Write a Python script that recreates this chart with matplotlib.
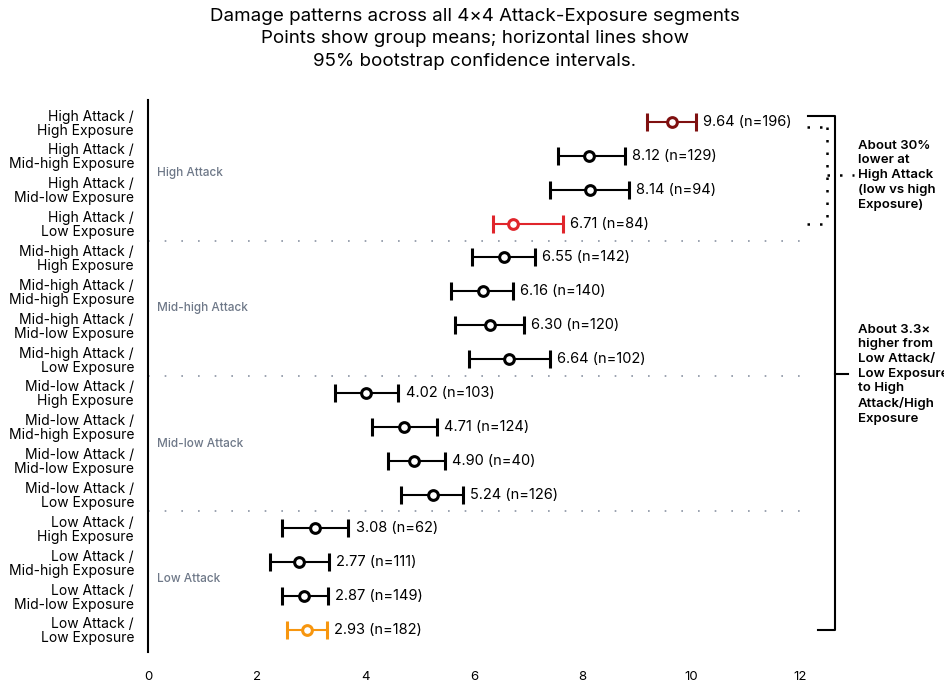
import numpy as np
import matplotlib
matplotlib.use('Agg')
import matplotlib.pyplot as plt

plt.rcParams['font.family'] = ['Inter', 'DejaVu Sans']

ATTACK = ["High", "Mid-high", "Mid-low", "Low"]
EXPOSURE = ["High", "Mid-high", "Mid-low", "Low"]
MEANS = [9.64, 8.12, 8.14, 6.71,
         6.55, 6.16, 6.30, 6.64,
         4.02, 4.71, 4.90, 5.24,
         3.08, 2.77, 2.87, 2.93]
CI_LOW = [9.18, 7.55, 7.40, 6.35,
          5.96, 5.57, 5.65, 5.91,
          3.44, 4.12, 4.42, 4.66,
          2.46, 2.25, 2.47, 2.55]
CI_HIGH = [10.09, 8.77, 8.85, 7.63,
           7.13, 6.72, 6.92, 7.40,
           4.61, 5.32, 5.47, 5.80,
           3.69, 3.33, 3.31, 3.29]
COUNTS = [196, 129, 94, 84,
          142, 140, 120, 102,
          103, 124, 40, 126,
          62, 111, 149, 182]
HIGHLIGHT = {0: '#7f1010', 3: '#e0252b', 15: '#f7960f'}

labels = [f"{a} Attack /\n{e} Exposure" for a in ATTACK for e in EXPOSURE]
y = np.arange(len(MEANS))

fig = plt.figure(figsize=(9.44, 6.88), dpi=100)
ax = fig.add_axes([148 / 944, 1 - 652 / 688, 652 / 944, 552 / 688])

for i in y:
    c = HIGHLIGHT.get(i, 'black')
    lo, hi = CI_LOW[i], CI_HIGH[i]
    ax.errorbar(MEANS[i], i, xerr=[[MEANS[i] - lo], [hi - MEANS[i]]],
                fmt='o', color=c, ecolor=c, elinewidth=1.5, capsize=6.5,
                capthick=1.5, markersize=7, markerfacecolor='white',
                markeredgewidth=2.2, markeredgecolor=c, zorder=3)
    ax.text(hi + 0.13, i, f"{MEANS[i]:.2f} (n={COUNTS[i]})",
            va='center', ha='left', fontsize=10.5)

# group separators and labels
for g in range(1, 4):
    ax.plot([0, 12.12], [g * 4 - 0.5] * 2, linestyle=(0, (1, 9)),
            color='#8a93a3', lw=1.2, clip_on=False)
for g, a in enumerate(ATTACK):
    ax.text(0.17, g * 4 + 1.5, f"{a} Attack", va='center', ha='left',
            fontsize=8.5, color='#6e7888', fontweight='medium')

ax.set_xlim(0, 12)
ax.set_ylim(15.65, -0.65)
ax.set_yticks(y)
ax.set_yticklabels(labels, fontsize=10, linespacing=1.0)
ax.set_xticks(np.arange(0, 13, 2))
ax.tick_params(axis='x', length=0, pad=14, labelsize=9.5)
ax.tick_params(axis='y', length=0, pad=10)
for s in ['top', 'right', 'bottom']:
    ax.spines[s].set_visible(False)
ax.spines['left'].set_linewidth(1.5)

# dotted bracket: High Attack, low vs high exposure
dot = dict(color='black', lw=1.8, linestyle=(0, (1, 4)), clip_on=False)
ax.plot([12.12, 12.49], [0.15, 0.15], **dot)
ax.plot([12.49, 12.49], [0.15, 3.0], **dot)
ax.plot([12.12, 12.49], [3.0, 3.0], **dot)
ax.plot([12.49, 13.0], [1.57, 1.57], **dot)
ax.text(13.07, 1.57, "About 30%\nlower at\nHigh Attack\n(low vs high\nExposure)",
        va='center', ha='left', fontsize=9.5, fontweight='semibold',
        linespacing=1.3, clip_on=False)

# solid bracket: whole range
sol = dict(color='black', lw=1.5, clip_on=False)
ax.plot([12.15, 12.64, 12.64, 12.33], [-0.17, -0.17, 15.0, 15.0], **sol)
ax.plot([12.64, 12.88], [7.45, 7.45], **sol)
ax.text(13.07, 7.45, "About 3.3×\nhigher from\nLow Attack/\nLow Exposure\nto High\nAttack/High\nExposure",
        va='center', ha='left', fontsize=9.5, fontweight='semibold',
        linespacing=1.3, clip_on=False)

fig.text(0.503, 0.988, "Damage patterns across all 4×4 Attack-Exposure segments\n"
         "Points show group means; horizontal lines show\n"
         "95% bootstrap confidence intervals.",
         ha='center', va='top', fontsize=13.5, linespacing=1.4)

fig.savefig("out.png", dpi=100)
